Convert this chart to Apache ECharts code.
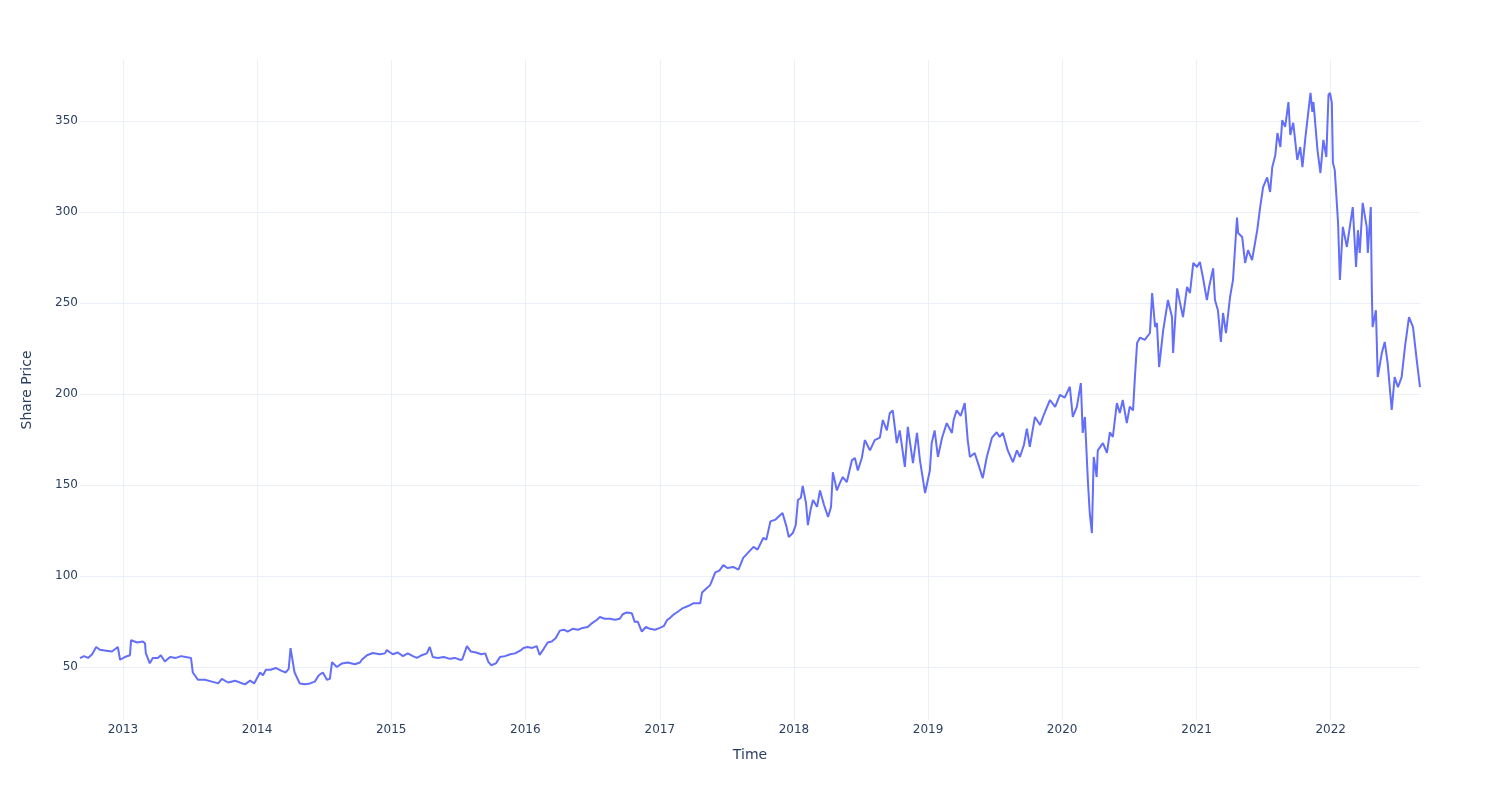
<!DOCTYPE html>
<html>
<head>
<meta charset="utf-8">
<script src="https://cdn.jsdelivr.net/npm/echarts@6/dist/echarts.min.js"></script>
<style>html,body{margin:0;padding:0;background:#fff}#chart{width:1500px;height:800px}</style>
</head>
<body>
<div id="chart"></div>
<script>
const dates = [
'2012-09-06','2012-09-17','2012-09-28','2012-10-09','2012-10-20','2012-10-30','2012-11-16','2012-12-02','2012-12-18','2012-12-24',
'2013-01-06','2013-01-20','2013-01-23','2013-02-08','2013-02-24','2013-03-02','2013-03-04','2013-03-15','2013-03-23','2013-04-06',
'2013-04-14','2013-04-25','2013-05-09','2013-05-25','2013-06-08','2013-06-21','2013-07-05','2013-07-10','2013-07-24','2013-08-12',
'2013-08-31','2013-09-17','2013-09-27','2013-10-14','2013-11-02','2013-11-15','2013-11-29','2013-12-13','2013-12-24',
'2014-01-09','2014-01-17','2014-01-25','2014-02-07','2014-02-21','2014-03-07','2014-03-20','2014-03-28','2014-04-02','2014-04-13',
'2014-04-27','2014-05-11','2014-05-25','2014-06-07','2014-06-18','2014-06-29','2014-07-10','2014-07-18','2014-07-24','2014-08-06',
'2014-08-20','2014-09-05','2014-09-24','2014-10-08','2014-10-13','2014-10-27','2014-11-12','2014-12-01','2014-12-15','2014-12-20',
'2015-01-05','2015-01-19','2015-02-02','2015-02-15','2015-03-01','2015-03-12','2015-03-25','2015-04-08','2015-04-16','2015-04-24',
'2015-05-08','2015-05-24','2015-06-10','2015-06-23','2015-07-07','2015-07-13','2015-07-26','2015-08-06','2015-08-20','2015-09-03',
'2015-09-14','2015-09-22','2015-09-30','2015-10-13','2015-10-24','2015-11-07','2015-11-21','2015-12-04','2015-12-18','2015-12-27',
'2016-01-07','2016-01-20','2016-02-01','2016-02-09','2016-02-20','2016-03-02','2016-03-13','2016-03-24','2016-04-04','2016-04-15',
'2016-04-25','2016-05-09','2016-05-23','2016-06-05','2016-06-19','2016-06-30','2016-07-14','2016-07-22','2016-08-04','2016-08-18',
'2016-09-01','2016-09-14','2016-09-22','2016-10-03','2016-10-17','2016-10-25','2016-11-02','2016-11-13','2016-11-24','2016-12-05',
'2016-12-19','2017-01-01','2017-01-12','2017-01-21','2017-01-29','2017-02-06','2017-02-20','2017-03-05','2017-03-19','2017-04-02',
'2017-04-21','2017-04-26','2017-05-07','2017-05-18','2017-06-01','2017-06-12','2017-06-23','2017-07-04','2017-07-20','2017-08-03',
'2017-08-16','2017-08-30','2017-09-13','2017-09-24','2017-10-10','2017-10-18','2017-10-29','2017-11-12','2017-11-25','2017-12-01',
'2017-12-12','2017-12-18','2017-12-29','2018-01-06','2018-01-12','2018-01-20','2018-01-25','2018-02-03','2018-02-08','2018-02-16',
'2018-02-22','2018-03-05','2018-03-13','2018-03-24','2018-04-04','2018-04-12','2018-04-17','2018-04-28','2018-05-06','2018-05-14',
'2018-05-25','2018-06-08','2018-06-16','2018-06-24','2018-07-05','2018-07-13','2018-07-27','2018-08-09','2018-08-23','2018-08-31',
'2018-09-11','2018-09-19','2018-09-27','2018-10-08','2018-10-16','2018-10-30','2018-11-07','2018-11-21','2018-12-02','2018-12-10',
'2018-12-24','2019-01-06','2019-01-11','2019-01-19','2019-01-28','2019-02-08','2019-02-21','2019-03-07','2019-03-12','2019-03-20',
'2019-03-31','2019-04-11','2019-04-19','2019-04-25','2019-05-08','2019-05-17','2019-05-30','2019-06-10','2019-06-24','2019-07-07',
'2019-07-15','2019-07-24','2019-08-06','2019-08-20','2019-08-31','2019-09-08','2019-09-19','2019-09-27','2019-10-05','2019-10-19',
'2019-11-02','2019-11-13','2019-11-21','2019-11-29','2019-12-13','2019-12-26','2020-01-08','2020-01-22','2020-01-30','2020-02-10',
'2020-02-21','2020-02-26','2020-03-03','2020-03-11','2020-03-16','2020-03-22','2020-03-27','2020-04-04','2020-04-07','2020-04-21',
'2020-05-02','2020-05-10','2020-05-18','2020-05-29','2020-06-06','2020-06-14','2020-06-25','2020-07-03','2020-07-12','2020-07-17',
'2020-07-23','2020-07-31','2020-08-13','2020-08-27','2020-09-02','2020-09-10','2020-09-15','2020-09-21','2020-10-02','2020-10-15',
'2020-10-26','2020-10-29','2020-11-09','2020-11-17','2020-11-25','2020-12-06','2020-12-14','2020-12-23','2021-01-02','2021-01-10',
'2021-01-18','2021-01-29','2021-02-04','2021-02-15','2021-02-20','2021-02-28','2021-03-08','2021-03-14','2021-03-22','2021-04-02',
'2021-04-10','2021-04-21','2021-04-24','2021-05-05','2021-05-13','2021-05-21','2021-06-01','2021-06-15','2021-06-23','2021-07-01',
'2021-07-12','2021-07-20','2021-07-26','2021-08-03','2021-08-09','2021-08-17','2021-08-22','2021-08-30','2021-09-08','2021-09-13',
'2021-09-21','2021-10-02','2021-10-10','2021-10-16','2021-10-24','2021-11-07','2021-11-12','2021-11-15','2021-11-26','2021-12-04',
'2021-12-12','2021-12-20','2021-12-26','2021-12-30','2022-01-04','2022-01-07','2022-01-12','2022-01-21','2022-01-26','2022-02-03',
'2022-02-14','2022-02-22','2022-03-02','2022-03-11','2022-03-16','2022-03-21','2022-03-29','2022-04-09','2022-04-12','2022-04-20',
'2022-04-23','2022-04-25','2022-05-04','2022-05-09','2022-05-20','2022-05-28','2022-06-05','2022-06-16','2022-06-24','2022-07-03',
'2022-07-13','2022-07-22','2022-08-02','2022-08-13','2022-08-23','2022-09-01'
];
const prices = [
54.9,56,55,57,61,59.5,59,58.5,61,54,
55.5,56.5,64.8,63.5,64,63,57.7,52,55,55,
56.5,53,55.5,55,56,55.5,55,47,43,43,
42,41,43.5,41.5,42.5,41.5,40.5,42.5,41,
47,45.5,48.5,48.5,49.5,48,47,49,60.4,47,
41,40.5,41,42,45.5,47,43,43.5,52.7,50,
52,52.5,51.5,52.5,54,56.5,57.7,57,57.5,59.3,
57,58,56,57.5,56,55,56.5,57.5,61,55.5,
55,55.5,54.5,55,54,54,61.5,58.5,58,57,
57.5,53,51,52,55.5,56,57,57.5,59,60.5,
61,60.5,61.5,56.6,60,63.5,64,66,70,70.5,
69.5,71,70.5,71.5,72,74,76,77.5,76.5,76.5,
76,76.5,79,80,79.5,74.7,75,69.5,72,71,
70.5,71.5,72.5,75.8,77,78.6,80.5,82.4,83.5,85,
85,91,93,95,102,103,106,104.4,105,103.5,
110,113,116,114.5,121,120,130,131,133.5,134.6,
127,121.4,123.6,128,141.8,143,149.5,140,128,137,
141.8,138,147,139,132.4,138,157,147,151,154.4,
151.6,163.7,164.8,158,165,174.7,169,174.7,176,185.7,
180,189.6,191,173,180,160,182,162,178.6,163.7,
145.6,158,173,180,165.4,175.8,184,178.6,186,191,
188,195,174.7,165.4,167.6,162,153.8,165.4,176,179,
176.4,178.6,169,162.6,169,165.4,172,181,171,187.4,
183,189,192.9,196.7,192.9,199.5,198,204,187.4,192.9,
206,178.6,187.4,152.7,135,123.6,165.4,154.4,169,173,
167.6,179,176.4,195,189.6,196.7,184,193,191,209,
228,231,229.7,233.5,255.5,236.8,239,214.8,235,251.6,
242.3,222.5,258,250,242.3,258.8,255.5,272,269.8,272.5,
264.3,251.6,258.8,269,251.6,246,228.6,244.5,233.5,253.3,
262.6,297,288.5,286.3,272,279,273.6,290,302.7,313.7,
319,311,324.7,331,343.4,335.7,350.5,346.7,360.4,342.3,
349,328.6,335.7,324.7,340.7,365.4,355,360.4,334,321.4,
339.6,330.2,364.3,365.4,360,327,323,294,262.6,291.8,
280.8,291.8,302.7,269.8,290,277.5,305,291.8,277.5,302.7,
255.5,236.8,246,209.3,222.5,228.6,217,191.2,209.3,203.8,
209.3,225.8,242.3,236.8,218.7,203.8
];
const xTitle = 'Time';
const yTitle = 'Share Price';
const xRange = ['2012-09-06', '2022-09-01'];
const yRange = [20.9, 383.5];

const seriesData = dates.map((d, i) => [d, prices[i]]);
const fontFamily = '"DejaVu Sans", verdana, arial, sans-serif';
const textColor = '#2a3f5f';
const gridColor = '#ebf0f8';

const chart = echarts.init(document.getElementById('chart'), null, { renderer: 'canvas' });
chart.setOption({
  animation: false,
  backgroundColor: '#ffffff',
  textStyle: { fontFamily: fontFamily },
  grid: { left: 80, right: 80, top: 60, bottom: 80, containLabel: false },
  xAxis: {
    type: 'time',
    min: xRange[0],
    max: xRange[1],
    splitNumber: 10,
    name: xTitle,
    nameLocation: 'middle',
    nameGap: 28,
    nameTextStyle: { color: textColor, fontSize: 14, fontFamily: fontFamily },
    axisLine: { show: false },
    axisTick: { show: false },
    axisLabel: {
      color: textColor, fontSize: 12, fontFamily: fontFamily, margin: 4,
      showMinLabel: false, showMaxLabel: false,
      formatter: function (v) { return String(new Date(v).getFullYear()); }
    },
    splitLine: { show: true, showMinLine: false, showMaxLine: false, lineStyle: { color: gridColor, width: 1 } }
  },
  yAxis: {
    type: 'value',
    min: yRange[0],
    max: yRange[1],
    splitNumber: 7,
    name: yTitle,
    nameLocation: 'middle',
    nameGap: 46,
    nameTextStyle: { color: textColor, fontSize: 14, fontFamily: fontFamily },
    axisLine: { show: false },
    axisTick: { show: false },
    axisLabel: { color: textColor, fontSize: 12, fontFamily: fontFamily, margin: 2, showMinLabel: false, showMaxLabel: false },
    splitLine: { show: true, showMinLine: false, showMaxLine: false, lineStyle: { color: gridColor, width: 1 } }
  },
  series: [{
    type: 'line',
    data: seriesData,
    showSymbol: false,
    symbol: 'none',
    lineStyle: { color: '#636efa', width: 2 },
    itemStyle: { color: '#636efa' }
  }]
});
</script>
</body>
</html>
